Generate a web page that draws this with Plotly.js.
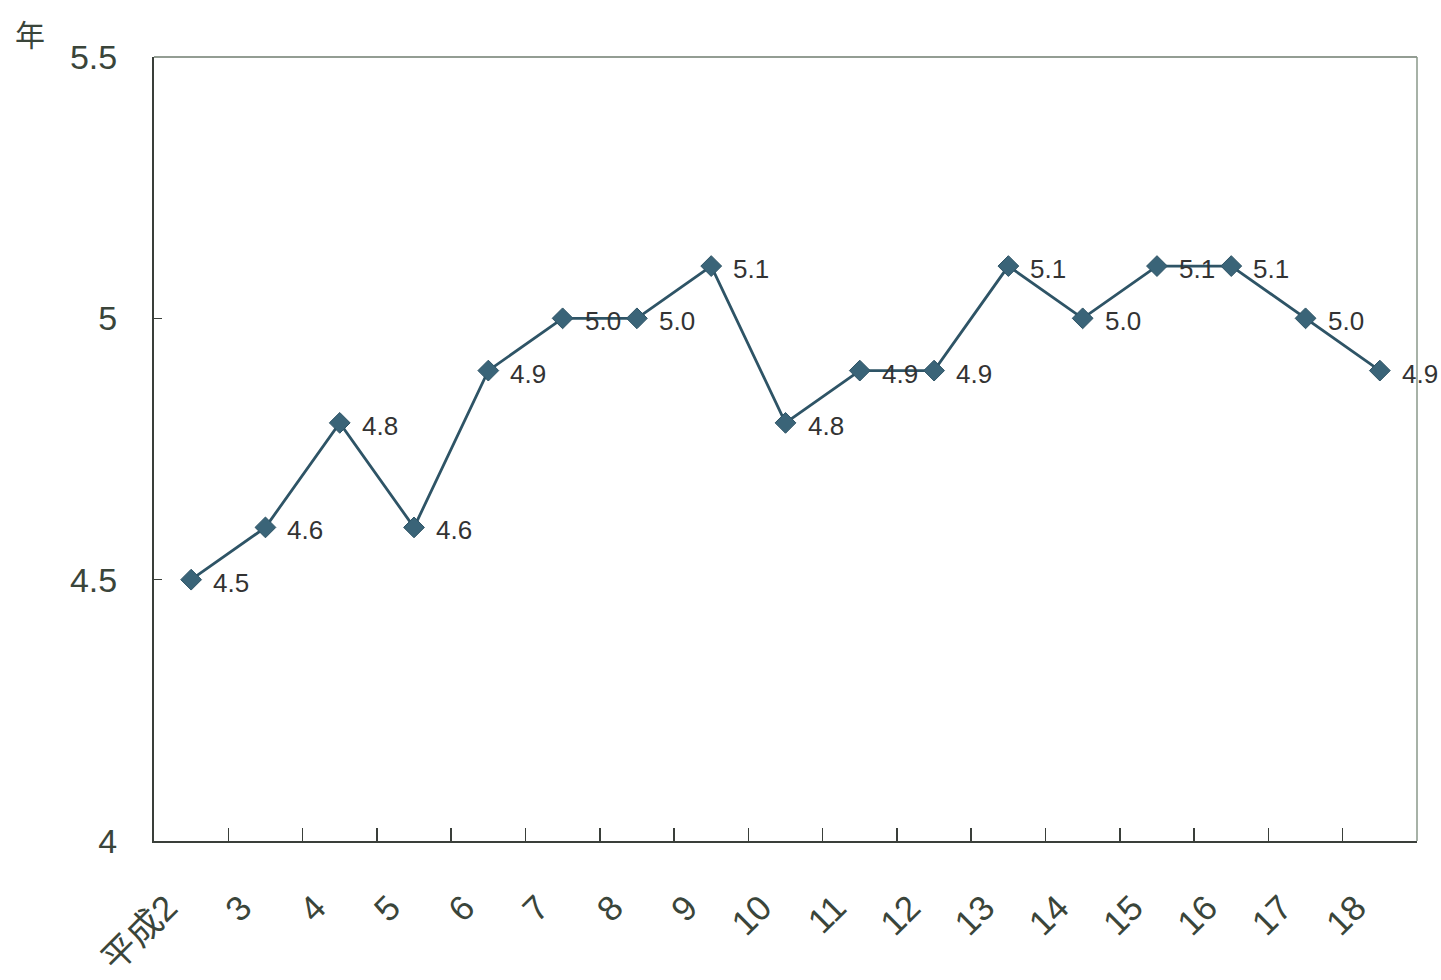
<!DOCTYPE html>
<html>
<head>
<meta charset="utf-8">
<script src="https://cdn.plot.ly/plotly-3.0.1.min.js"></script>
<style>html,body{margin:0;padding:0;background:#fff;}#chart{width:1441px;height:980px;}</style>
</head>
<body>
<div id="chart"></div>
<script>
const categories = ["平成2","3","4","5","6","7","8","9","10","11","12","13","14","15","16","17","18"];
const values = [4.5,4.6,4.8,4.6,4.9,5.0,5.0,5.1,4.8,4.9,4.9,5.1,5.0,5.1,5.1,5.0,4.9];
const valueLabels = values.map(v => v.toFixed(1));
const yTicks = [4, 4.5, 5, 5.5];
const yTickLabels = ["4", "4.5", "5", "5.5"];
const yUnit = "年";

const FONT = '"Liberation Sans", Arial, "Noto Sans CJK JP", sans-serif';

const trace = {
  x: categories,
  y: values,
  type: "scatter",
  mode: "lines+markers",
  line: {color: "#2e5466", width: 2.8},
  marker: {symbol: "diamond", size: 16, color: "#3a6478", line: {color: "#2e5466", width: 1}},
  cliponaxis: false,
  hoverinfo: "skip"
};

// category axis: annotations positioned by category index
const labelAnnotations = categories.map((c, i) => ({
  x: i, y: values[i], xref: "x", yref: "y",
  text: valueLabels[i], showarrow: false,
  xanchor: "left", yanchor: "middle", xshift: 20, yshift: -3,
  font: {family: FONT, size: 26, color: "#333"}
}));

const layout = {
  width: 1441, height: 980,
  margin: {l: 154, r: 24, t: 57, b: 139},
  paper_bgcolor: "#fff", plot_bgcolor: "#fff",
  showlegend: false,
  font: {family: FONT, color: "#3a453a"},
  xaxis: {
    type: "category",
    categoryorder: "array", categoryarray: categories,
    range: [-0.5, categories.length - 0.5],
    autorange: false,
    showgrid: false, zeroline: false,
    showline: true, linecolor: "#3a3f3a", linewidth: 2,
    ticks: "inside", ticklen: 13, tickwidth: 1.5, tickcolor: "#3a3f3a",
    tickson: "boundaries",
    tickangle: -45,
    tickfont: {family: FONT, size: 35, color: "#3a453a"},
    ticklabelshift: -24,
    ticklabelstandoff: 30,
    fixedrange: true
  },
  yaxis: {
    range: [4, 5.5],
    autorange: false,
    tickvals: yTicks, ticktext: yTickLabels,
    showgrid: false, zeroline: false,
    showline: true, linecolor: "#3a3f3a", linewidth: 2,
    ticks: "inside", ticklen: 8, tickwidth: 1.5, tickcolor: "#3a3f3a",
    tickfont: {family: FONT, size: 34, color: "#3a453a"},
    ticklabelstandoff: 28,
    fixedrange: true
  },
  shapes: [
    {type: "line", xref: "paper", yref: "paper", x0: 0, x1: 1, y0: 1, y1: 1, line: {color: "#6f7d6f", width: 1.5}},
    {type: "line", xref: "paper", yref: "paper", x0: 1, x1: 1, y0: 0, y1: 1, line: {color: "#8a988a", width: 1.5}}
  ],
  annotations: labelAnnotations.concat([
    {text: yUnit, xref: "paper", yref: "paper", x: -0.098, y: 1.03, xanchor: "center", yanchor: "middle",
     showarrow: false, font: {family: '"Noto Sans CJK JP", sans-serif', size: 30, color: "#3a453a"}}
  ])
};

Plotly.newPlot("chart", [trace], layout, {displayModeBar: false, staticPlot: true});
</script>
</body>
</html>
